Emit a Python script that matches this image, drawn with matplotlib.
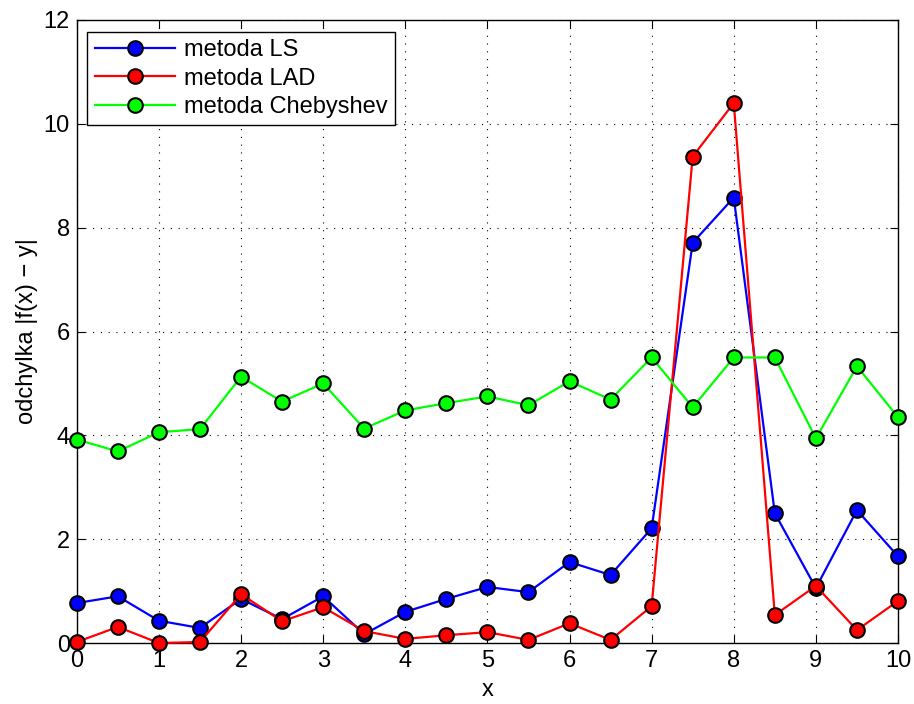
import matplotlib
matplotlib.use("Agg")
import matplotlib.pyplot as plt
import numpy as np

x = [0, 0.5, 1, 1.5, 2, 2.5, 3, 3.5, 4, 4.5, 5, 5.5, 6, 6.5, 7, 7.5, 8, 8.5, 9, 9.5, 10]
ls_vals = [0.77, 0.90, 0.43, 0.29, 0.85, 0.46, 0.90, 0.17, 0.60, 0.85, 1.08, 0.98, 1.56, 1.31, 2.21, 7.71, 8.58, 2.50, 1.06, 2.56, 1.67]
lad_vals = [0.02, 0.31, 0.0, 0.02, 0.94, 0.42, 0.69, 0.23, 0.08, 0.15, 0.21, 0.06, 0.38, 0.06, 0.71, 9.37, 10.40, 0.54, 1.10, 0.25, 0.81]
cheb_vals = [3.92, 3.69, 4.06, 4.12, 5.13, 4.65, 5.00, 4.13, 4.48, 4.62, 4.75, 4.58, 5.04, 4.69, 5.50, 4.54, 5.50, 5.50, 3.94, 5.33, 4.35]
labels = ["metoda LS", "metoda LAD", "metoda Chebyshev"]
colors = ["#0000ff", "#ff0000", "#00ff00"]

fs = 17
plt.rcParams['font.family'] = ['Liberation Sans', 'DejaVu Sans']
fig = plt.figure(figsize=(9.14, 7.04), dpi=100)
ax = fig.add_axes([0.084, 0.0866, 0.8985, 0.885])

for vals, lab, c in zip([ls_vals, lad_vals, cheb_vals], labels, colors):
    ax.plot(x, vals, '-o', color=c, lw=1.6, markersize=10.5, markerfacecolor=c,
            markeredgecolor='black', markeredgewidth=1.5, label=lab, clip_on=False, zorder=3)

ax.set_xlim(0, 10)
ax.set_ylim(0, 12)
ax.set_xticks(range(0, 11))
ax.set_yticks(range(0, 13, 2))
ax.tick_params(direction='in', labelsize=fs, length=6, width=0.8, top=True, right=True, pad=5)
ax.grid(True, linestyle=(0, (1, 6)), color='black', linewidth=0.8)
for s in ax.spines.values():
    s.set_linewidth(1.0)
ax.set_xlabel("x", fontsize=fs, labelpad=5)
ax.set_ylabel("odchylka |f(x) − y|", fontsize=fs, labelpad=4)

leg = ax.legend(loc='upper left', bbox_to_anchor=(0.013, 0.981), fontsize=fs, fancybox=False,
                edgecolor='black', framealpha=1, borderpad=0.3, labelspacing=0.28,
                handlelength=3.4, handletextpad=0.4, borderaxespad=0)
leg.get_frame().set_linewidth(1.0)

fig.savefig("out.png", dpi=100)
